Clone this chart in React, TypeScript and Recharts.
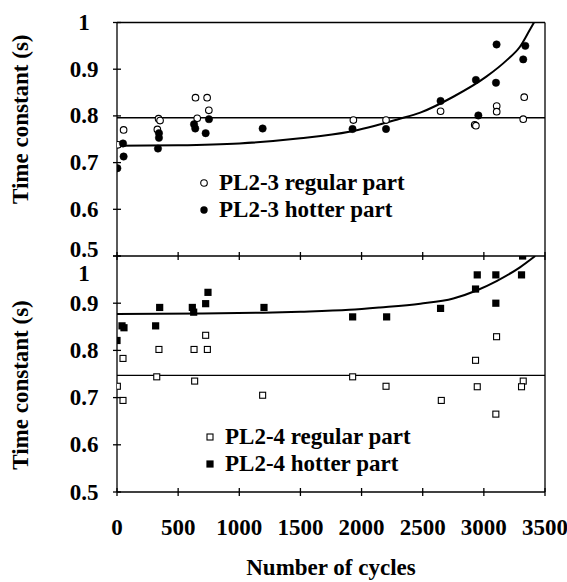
import React from 'react';
import { ComposedChart, Scatter, Line, XAxis, YAxis, ReferenceLine, Legend, Label } from 'recharts';

// ---- data ----
const xTicks = [0, 500, 1000, 1500, 2000, 2500, 3000, 3500];
const yTicks = [0.5, 0.6, 0.7, 0.8, 0.9, 1];

const pl23Regular = [
  { x: 8, y: 0.738 }, { x: 54, y: 0.770 }, { x: 330, y: 0.771 }, { x: 340, y: 0.794 },
  { x: 352, y: 0.790 }, { x: 642, y: 0.839 }, { x: 656, y: 0.795 }, { x: 737, y: 0.839 },
  { x: 751, y: 0.812 }, { x: 1933, y: 0.791 }, { x: 2200, y: 0.791 }, { x: 2646, y: 0.810 },
  { x: 2925, y: 0.781 }, { x: 2935, y: 0.779 }, { x: 3105, y: 0.821 }, { x: 3105, y: 0.809 },
  { x: 3330, y: 0.840 }, { x: 3322, y: 0.793 },
];
const pl23Hotter = [
  { x: 3, y: 0.688 }, { x: 49, y: 0.741 }, { x: 54, y: 0.713 }, { x: 335, y: 0.730 },
  { x: 343, y: 0.763 }, { x: 343, y: 0.753 }, { x: 630, y: 0.782 }, { x: 640, y: 0.773 },
  { x: 725, y: 0.763 }, { x: 752, y: 0.793 }, { x: 1191, y: 0.773 }, { x: 1926, y: 0.772 },
  { x: 2200, y: 0.772 }, { x: 2646, y: 0.832 }, { x: 2935, y: 0.877 }, { x: 2955, y: 0.801 },
  { x: 3104, y: 0.953 }, { x: 3099, y: 0.871 }, { x: 3339, y: 0.950 }, { x: 3322, y: 0.921 },
];
const pl23Trend = [
  { x: 0, y: 0.736 }, { x: 500, y: 0.737 }, { x: 1000, y: 0.741 }, { x: 1500, y: 0.752 },
  { x: 1900, y: 0.766 }, { x: 2300, y: 0.793 }, { x: 2480, y: 0.807 }, { x: 2750, y: 0.841 },
  { x: 3020, y: 0.884 }, { x: 3190, y: 0.920 }, { x: 3295, y: 0.948 }, { x: 3375, y: 0.984 },
  { x: 3410, y: 1.0 },
];
const pl23Level = 0.796;

const pl24Regular = [
  { x: 3, y: 0.724 }, { x: 49, y: 0.694 }, { x: 49, y: 0.783 }, { x: 325, y: 0.744 },
  { x: 343, y: 0.802 }, { x: 630, y: 0.802 }, { x: 635, y: 0.735 }, { x: 725, y: 0.832 },
  { x: 739, y: 0.802 }, { x: 1191, y: 0.705 }, { x: 1927, y: 0.744 }, { x: 2200, y: 0.724 },
  { x: 2652, y: 0.694 }, { x: 2932, y: 0.779 }, { x: 2946, y: 0.723 }, { x: 3104, y: 0.829 },
  { x: 3098, y: 0.665 }, { x: 3322, y: 0.735 }, { x: 3308, y: 0.723 },
];
const pl24Hotter = [
  { x: 0, y: 0.821 }, { x: 41, y: 0.852 }, { x: 57, y: 0.848 }, { x: 316, y: 0.852 },
  { x: 349, y: 0.891 }, { x: 616, y: 0.891 }, { x: 627, y: 0.881 }, { x: 725, y: 0.899 },
  { x: 744, y: 0.923 }, { x: 1202, y: 0.891 }, { x: 1927, y: 0.871 }, { x: 2205, y: 0.871 },
  { x: 2646, y: 0.889 }, { x: 2932, y: 0.930 }, { x: 2946, y: 0.960 }, { x: 3098, y: 0.960 },
  { x: 3098, y: 0.900 }, { x: 3308, y: 0.960 }, { x: 3317, y: 1.0 },
];
const pl24Trend = [
  { x: 0, y: 0.877 }, { x: 700, y: 0.878 }, { x: 1200, y: 0.880 }, { x: 1500, y: 0.882 },
  { x: 1900, y: 0.886 }, { x: 2150, y: 0.891 }, { x: 2480, y: 0.899 }, { x: 2750, y: 0.910 },
  { x: 2940, y: 0.927 }, { x: 3104, y: 0.947 }, { x: 3295, y: 0.976 }, { x: 3420, y: 1.0 },
];
const pl24Level = 0.747;

const topLegend = ['PL2-3 regular part', 'PL2-3 hotter part'];
const bottomLegend = ['PL2-4 regular part', 'PL2-4 hotter part'];
const yTitle = 'Time constant (s)';
const xTitle = 'Number of cycles';

// ---- styles ----
const FONT = "'Liberation Serif', Tinos, 'Times New Roman', Times, 'DejaVu Serif', serif";
const FS = 23;
const W = 567;
const H = 582;
const LW = 1.3;

const txtStyle: React.CSSProperties = { fontFamily: FONT, fontWeight: 700, fontSize: FS };

const OpenCircle = (p: any) => <circle cx={p.cx} cy={p.cy} r={3.3} fill="#fff" stroke="#000" strokeWidth={1.1} />;
const FilledCircle = (p: any) => <circle cx={p.cx} cy={p.cy} r={3.7} fill="#000" stroke="#000" strokeWidth={0.5} />;
const OpenSquare = (p: any) => <rect x={p.cx - 3} y={p.cy - 3} width={6} height={6} fill="#fff" stroke="#000" strokeWidth={1.1} />;
const FilledSquare = (p: any) => <rect x={p.cx - 3.6} y={p.cy - 3.6} width={7.2} height={7.2} fill="#000" />;

const makeXTick = (showLabel: boolean) => (p: any) => (
  <g>
    <line x1={p.x} x2={p.x} y1={p.y - 4} y2={p.y + 4} stroke="#000" strokeWidth={LW} />
    {showLabel && (
      <text x={p.x} y={p.y + 35} textAnchor="middle" dominantBaseline="central"
        style={txtStyle} fill="#000">{p.payload.value}</text>
    )}
  </g>
);

const makeYTick = (isBottom: boolean) => (p: any) => {
  const v = p.payload.value;
  let dy = 0;
  if (isBottom && v === 1) dy = 17;
  if (!isBottom && v === 0.5) dy = -7;
  return (
    <g>
      <line x1={p.x - 4} x2={p.x + 4} y1={p.y} y2={p.y} stroke="#000" strokeWidth={LW} />
      <text x={p.x - 33} y={p.y + dy} textAnchor="middle" dominantBaseline="central"
        style={txtStyle} fill="#000">{String(v)}</text>
    </g>
  );
};

const YTitle = (props: any) => {
  const vb = props.viewBox || {};
  const cx = 20;
  const cy = (vb.y ?? 0) + (vb.height ?? 0) / 2 + (props.shift || 0);
  return (
    <text x={cx} y={cy} transform={`rotate(-90 ${cx} ${cy})`} textAnchor="middle" dominantBaseline="central"
      style={txtStyle} fill="#000">{yTitle}</text>
  );
};

const XTitle = (props: any) => {
  const vb = props.viewBox || {};
  const cx = (vb.x ?? 0) + (vb.width ?? 0) / 2;
  const cy = (vb.y ?? 0) + 75;
  return (
    <text x={cx} y={cy} textAnchor="middle" dominantBaseline="central"
      style={txtStyle} fill="#000">{xTitle}</text>
  );
};

const LegendBox = ({ labels, square }: { labels: string[]; square: boolean }) => (
  <div style={{ ...txtStyle, lineHeight: '27px', color: '#000' }}>
    {labels.map((lab, i) => (
      <div key={lab} style={{ display: 'flex', alignItems: 'center', whiteSpace: 'nowrap', height: 27 }}>
        <svg width={23} height={14} style={{ display: 'block' }}>
          {square ? (
            i === 0 ? <rect x={5} y={4} width={6} height={6} fill="#fff" stroke="#000" strokeWidth={1.1} />
              : <rect x={4.4} y={3.4} width={7.2} height={7.2} fill="#000" />
          ) : (
            i === 0 ? <circle cx={8} cy={7} r={3.3} fill="#fff" stroke="#000" strokeWidth={1.1} />
              : <circle cx={8} cy={7} r={3.7} fill="#000" />
          )}
        </svg>
        <span>{lab}</span>
      </div>
    ))}
  </div>
);

export default function App() {
  return (
    <div style={{ position: 'absolute', left: 0, top: 0, width: W, height: H, background: '#fff' }}>
      {/* top panel: PL2-3 */}
      <div style={{ position: 'absolute', left: 0, top: 0 }}>
        <ComposedChart width={W} height={H} margin={{ top: 22.5, right: 22, left: 0, bottom: 325 }}>
          <XAxis type="number" dataKey="x" domain={[0, 3500]} ticks={xTicks} interval={0}
            height={1} tickSize={0} tickMargin={0} tickLine={false}
            axisLine={{ stroke: '#000', strokeWidth: LW }} tick={makeXTick(false)} allowDataOverflow />
          <YAxis type="number" dataKey="y" domain={[0.5, 1]} ticks={yTicks} interval={0} width={117}
            tickSize={0} tickMargin={0} tickLine={false}
            axisLine={{ stroke: '#000', strokeWidth: LW }} tick={makeYTick(false)} allowDataOverflow>
            <Label content={<YTitle shift={-20} />} />
          </YAxis>
          <ReferenceLine y={1} stroke="#000" strokeWidth={LW} />
          <ReferenceLine x={3500} stroke="#000" strokeWidth={LW} />
          <ReferenceLine y={pl23Level} stroke="#000" strokeWidth={LW} />
          <Line data={pl23Trend} dataKey="y" type="monotone" stroke="#000" strokeWidth={2}
            dot={false} isAnimationActive={false} legendType="none" />
          <Scatter data={pl23Regular} dataKey="y" shape={OpenCircle} isAnimationActive={false} />
          <Scatter data={pl23Hotter} dataKey="y" shape={FilledCircle} isAnimationActive={false} />
          <Legend layout="vertical" align="center" verticalAlign="middle"
            wrapperStyle={{ left: 196, top: 169, width: 'auto', height: 'auto' }}
            content={() => <LegendBox labels={topLegend} square={false} />} />
        </ComposedChart>
      </div>
      {/* bottom panel: PL2-4 */}
      <div style={{ position: 'absolute', left: 0, top: 0 }}>
        <ComposedChart width={W} height={H} margin={{ top: 256, right: 22, left: 0, bottom: 0 }}>
          <XAxis type="number" dataKey="x" domain={[0, 3500]} ticks={xTicks} interval={0}
            height={90} tickSize={0} tickMargin={0} tickLine={false}
            axisLine={{ stroke: '#000', strokeWidth: LW }} tick={makeXTick(true)} allowDataOverflow>
            <Label content={<XTitle />} />
          </XAxis>
          <YAxis type="number" dataKey="y" domain={[0.5, 1]} ticks={yTicks} interval={0} width={117}
            tickSize={0} tickMargin={0} tickLine={false}
            axisLine={{ stroke: '#000', strokeWidth: LW }} tick={makeYTick(true)} allowDataOverflow>
            <Label content={<YTitle shift={11} />} />
          </YAxis>
          <ReferenceLine x={3500} stroke="#000" strokeWidth={LW} />
          <ReferenceLine y={pl24Level} stroke="#000" strokeWidth={LW} />
          <Line data={pl24Trend} dataKey="y" type="monotone" stroke="#000" strokeWidth={2}
            dot={false} isAnimationActive={false} legendType="none" />
          <Scatter data={pl24Regular} dataKey="y" shape={OpenSquare} isAnimationActive={false} />
          <Scatter data={pl24Hotter} dataKey="y" shape={FilledSquare} isAnimationActive={false} />
          <Legend layout="vertical" align="center" verticalAlign="middle"
            wrapperStyle={{ left: 202, top: 423, width: 'auto', height: 'auto' }}
            content={() => <LegendBox labels={bottomLegend} square={true} />} />
        </ComposedChart>
      </div>
    </div>
  );
}
